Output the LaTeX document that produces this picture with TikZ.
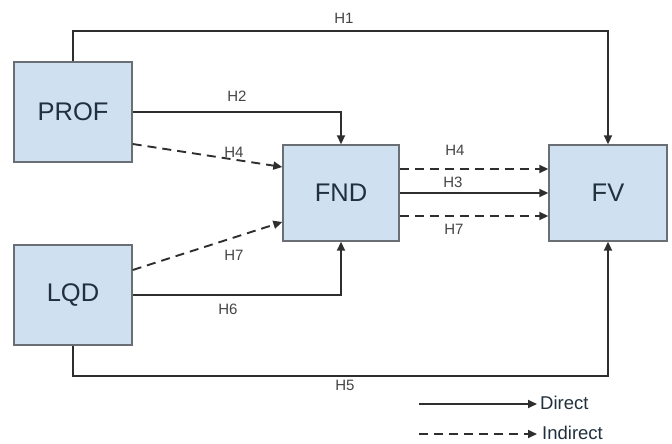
\documentclass[tikz,border=0pt]{standalone}
\usepackage{fontspec}
\setmainfont{Liberation Sans}
\usetikzlibrary{arrows.meta}
\definecolor{boxfill}{HTML}{CFE0F1}
\definecolor{boxline}{HTML}{6A6F75}
\definecolor{boxtext}{HTML}{22303E}
\definecolor{linecol}{HTML}{2E2E2E}
\definecolor{labcol}{HTML}{444444}
\tikzset{
  x=1pt,y=-1pt,
  var/.style={draw=boxline,fill=boxfill,line width=1.4pt,inner sep=0pt,
    font=\fontsize{25.5}{30}\selectfont,text=boxtext},
  direct/.style={draw=linecol,line width=1.9pt,-{Triangle[length=9pt,width=8pt]}},
  indirect/.style={direct,dash pattern=on 9pt off 6pt},
  hlab/.style={font=\fontsize{15}{17}\selectfont,text=labcol,inner sep=0pt},
  leglab/.style={font=\fontsize{18.5}{21}\selectfont,text=boxtext,anchor=west,inner sep=0pt}
}
\begin{document}
\begin{tikzpicture}
\useasboundingbox (0,0) rectangle (672,444);
\node[var,minimum width=118pt,minimum height=100pt] (PROF) at (73,112) {PROF};
\node[var,minimum width=118pt,minimum height=100pt] (LQD) at (73,295) {LQD};
\node[var,minimum width=116pt,minimum height=96pt] (FND) at (341,193) {FND};
\node[var,minimum width=118pt,minimum height=96pt] (FV) at (608,193) {FV};

\coordinate (top) at (0,31);
\coordinate (bot) at (0,376);
% H1
\draw[direct] (PROF.north) -- (PROF.north |- top) -- (FV.north |- top) -- (FV.north);
% H2
\draw[direct] (PROF.east) -| (FND.north);
% H6
\draw[direct] (LQD.east) -| (FND.south);
% H5
\draw[direct] (LQD.south) -- (LQD.south |- bot) -- (FV.south |- bot) -- (FV.south);
% H4, H7 to FND
\draw[indirect] ([yshift=-32pt]PROF.east) -- ([yshift=26pt]FND.west);
\draw[indirect] ([yshift=25pt]LQD.east) -- ([yshift=-29pt]FND.west);
% FND to FV
\draw[indirect] ([yshift=24pt]FND.east) -- ([yshift=24pt]FV.west);
\draw[direct] (FND.east) -- (FV.west);
\draw[indirect] ([yshift=-23pt]FND.east) -- ([yshift=-23pt]FV.west);

% labels
\node[hlab] (l1) at (344,18) {H1};
\node[hlab] (l2) at (237,96) {H2};
\node[hlab] (l4a) at (234,152) {H4};
\node[hlab] (l4b) at (455,150) {H4};
\node[hlab] (l3) at (453,182) {H3};
\node[hlab] (l7b) at (454,229) {H7};
\node[hlab] (l7a) at (234,255) {H7};
\node[hlab] (l6) at (228,309) {H6};
\node[hlab] (l5) at (345,385) {H5};

% legend
\coordinate (d1) at (419,404);
\coordinate (d2) at (537,404);
\coordinate (i1) at (419,434);
\coordinate (i2) at (537,434);
\draw[direct] (d1) -- (d2);
\draw[indirect] (i1) -- (i2);
\node[leglab] (ld) at (540,403) {Direct};
\node[leglab] (li) at (542,433) {Indirect};
\end{tikzpicture}
\end{document}
